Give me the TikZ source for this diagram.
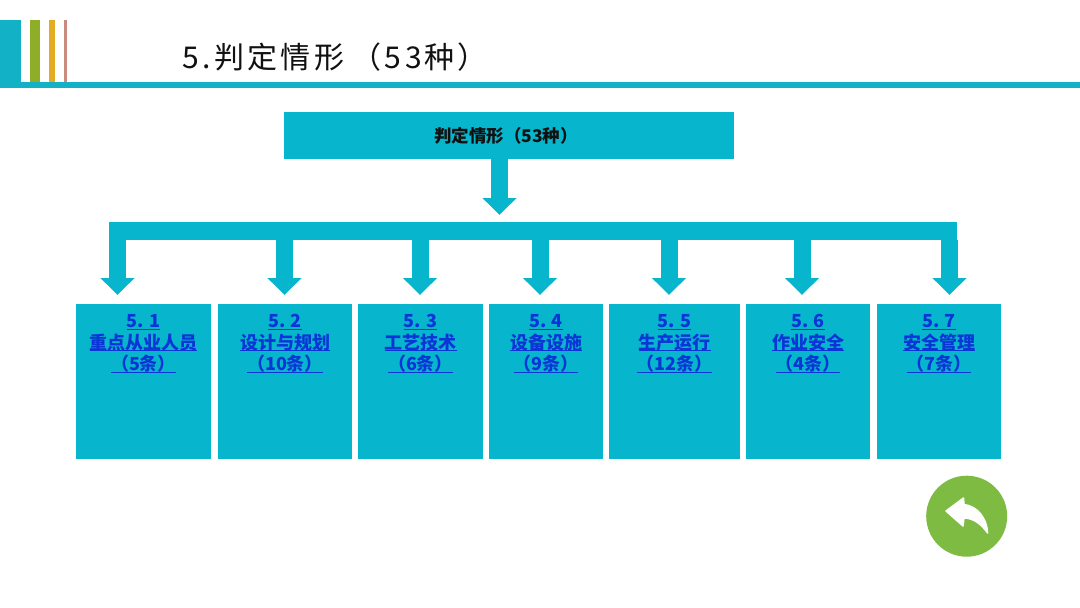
\documentclass[tikz,border=0pt]{standalone}
\usepackage{fontspec}
\setmainfont{Noto Sans CJK SC}
\usetikzlibrary{arrows.meta}
\definecolor{teal1}{HTML}{07B5CC}
\definecolor{rule1}{HTML}{12B1C6}
\definecolor{linkblue}{HTML}{0B35D6}
\definecolor{titleink}{HTML}{111111}
\definecolor{bargreen}{HTML}{8FAE27}
\definecolor{barorange}{HTML}{E3AC24}
\definecolor{barpink}{HTML}{C98A80}
\definecolor{backgreen}{HTML}{7DBB42}
\newcommand{\lk}[1]{\leavevmode\setbox0=\hbox{#1}\hbox to \wd0{\rlap{\vrule width\wd0 height -1.0pt depth 1.8pt}\box0}}
\newcommand{\linkbox}[4]{\parbox[c][155pt][t]{#1pt}{\centering\color{linkblue}\bfseries\fontsize{18}{21.5}\selectfont
  \vspace*{10.5pt}\lk{#2}\\[0pt]\lk{#3}\\[0pt]\lk{#4}}}
\tikzset{
  block/.style={fill=teal1,draw=none,inner sep=0pt,outer sep=0pt},
  flow/.style={draw=teal1,line width=17pt,-{Triangle[width=33pt,length=17pt]}},
  deco/.style={draw=none}
}
\begin{document}
\begin{tikzpicture}[x=1pt,y=-1pt]
\useasboundingbox (0,0) rectangle (1080,608);
\fill[white] (0,0) rectangle (1080,608);
% header decoration
\fill[rule1,deco] (0,20) rectangle (21,88);
\fill[bargreen,deco] (30,20) rectangle (40,82);
\fill[barorange,deco] (49,20) rectangle (55,82);
\fill[barpink,deco] (64,20) rectangle (67,82);
\fill[rule1,deco] (0,82) rectangle (1080,88);
\node[anchor=west,inner sep=0pt,text=titleink] (title) at (182,57)
  {\addfontfeatures{LetterSpace=11.5}\fontsize{30}{34}\selectfont 5.判定情形\kern7pt（5\kern4pt 3\kern2pt 种）};
% top box and bus
\node[block,minimum width=450pt,minimum height=47pt,anchor=north west] (top) at (284,112)
  {\hspace*{-6pt}\raisebox{-7pt}[0pt][0pt]{\fontsize{17.5}{20}\selectfont\bfseries\color{titleink}判定情形（53种）}};
\node[block,minimum width=848pt,minimum height=18pt,anchor=north west] (bus) at (109,222) {};
% boxes
\node[block,anchor=north west,minimum width=135pt,minimum height=155pt] (b1) at (76,304) {\linkbox{135}{5. 1}{重点从业人员}{（5条）}};
\node[block,anchor=north west,minimum width=134pt,minimum height=155pt] (b2) at (218,304) {\linkbox{134}{5. 2}{设计与规划}{（10条）}};
\node[block,anchor=north west,minimum width=125pt,minimum height=155pt] (b3) at (358,304) {\linkbox{125}{5. 3}{工艺技术}{（6条）}};
\node[block,anchor=north west,minimum width=114pt,minimum height=155pt] (b4) at (489,304) {\linkbox{114}{5. 4}{设备设施}{（9条）}};
\node[block,anchor=north west,minimum width=131pt,minimum height=155pt] (b5) at (609,304) {\linkbox{131}{5. 5}{生产运行}{（12条）}};
\node[block,anchor=north west,minimum width=124pt,minimum height=155pt] (b6) at (746,304) {\linkbox{124}{5. 6}{作业安全}{（4条）}};
\node[block,anchor=north west,minimum width=124pt,minimum height=155pt] (b7) at (877,304) {\linkbox{124}{5. 7}{安全管理}{（7条）}};
% arrows
\coordinate (t0) at (499.5,222);
\coordinate (a1) at (117.5,304);
\coordinate (a2) at (284.5,304);
\coordinate (a3) at (420,304);
\coordinate (a4) at (540,304);
\coordinate (a5) at (669,304);
\coordinate (a6) at (802,304);
\coordinate (a7) at (949.5,304);
\draw[flow,shorten >=7pt] (t0 |- top.south) -- (t0);
\draw[flow,shorten >=9pt] (a1 |- bus.south) -- (a1);
\draw[flow,shorten >=9pt] (a2 |- bus.south) -- (a2);
\draw[flow,shorten >=9pt] (a3 |- bus.south) -- (a3);
\draw[flow,shorten >=9pt] (a4 |- bus.south) -- (a4);
\draw[flow,shorten >=9pt] (a5 |- bus.south) -- (a5);
\draw[flow,shorten >=9pt] (a6 |- bus.south) -- (a6);
\draw[flow,shorten >=9pt] (a7 |- bus.south) -- (a7);
% back button
\fill[backgreen] (966.7,516.2) circle (40.5);
\fill[white,draw=white,line width=1.5pt,line join=round]
  (946,511) -- (963.5,498) -- (964,504.5)
  .. controls (977,506) and (987,518) .. (987.6,533)
  .. controls (982,525) and (974,518) .. (964,518)
  -- (963,526) -- cycle;
\end{tikzpicture}
\end{document}
